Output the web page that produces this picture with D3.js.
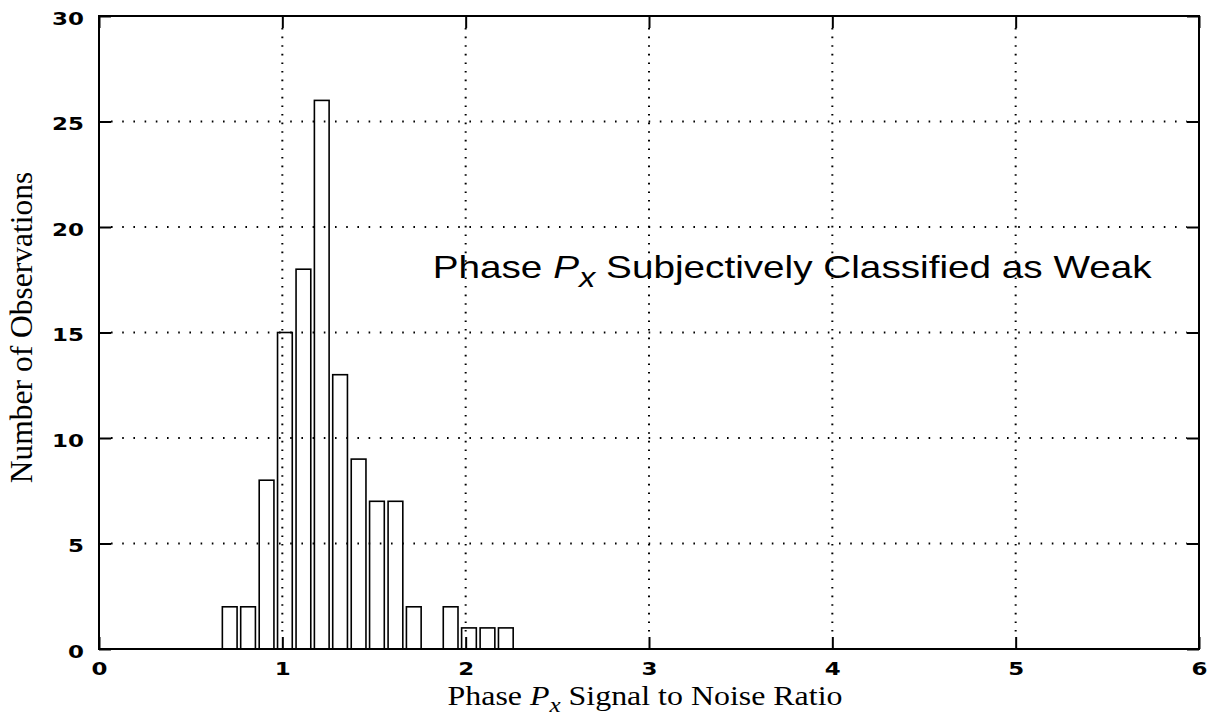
<!DOCTYPE html>
<html>
<head>
<meta charset="utf-8">
<script src="https://cdn.jsdelivr.net/npm/d3@7"></script>
<style>
  html, body { margin: 0; padding: 0; background: #fff; }
  svg { display: block; }
</style>
</head>
<body>
<svg id="chart" width="1217" height="717"></svg>
<script>
// Histogram of phase Px signal-to-noise ratio (bin centres and counts)
const binCenters = [0.713, 0.813, 0.914, 1.014, 1.115, 1.215, 1.315, 1.416, 1.516, 1.617, 1.717, 1.918, 2.018, 2.119, 2.219];
const binCounts  = [2, 2, 8, 15, 18, 26, 13, 9, 7, 7, 2, 2, 1, 1, 1];
const binWidth = 0.1004;
const barFraction = 0.8;

const xTicks = [0, 1, 2, 3, 4, 5, 6];
const yTicks = [0, 5, 10, 15, 20, 25, 30];
const xGrid = [1, 2, 3, 4, 5];
const yGrid = [5, 10, 15, 20, 25];

const svg = d3.select("#chart");
const plotLeft = 99, plotRight = 1199, plotTop = 16, plotBottom = 649;

const x = d3.scaleLinear().domain([0, 6]).range([plotLeft, plotRight]);
const y = d3.scaleLinear().domain([0, 30]).range([plotBottom, plotTop]);

const tickLen = 12;

// bars
svg.append("g")
  .selectAll("rect")
  .data(binCenters.map((c, i) => ({ c, n: binCounts[i] })))
  .join("rect")
  .attr("x", d => x(d.c - binWidth * barFraction / 2))
  .attr("width", d => x(d.c + binWidth * barFraction / 2) - x(d.c - binWidth * barFraction / 2))
  .attr("y", d => y(d.n))
  .attr("height", d => y(0) - y(d.n))
  .attr("fill", "#fff")
  .attr("stroke", "#000")
  .attr("stroke-width", 1.6);

// dotted grid, drawn over the bars
const grid = svg.append("g").attr("stroke", "#000").attr("stroke-width", 2);
grid.selectAll("line.h").data(yGrid).join("line")
  .attr("class", "h")
  .attr("x1", plotLeft + tickLen).attr("x2", plotRight - tickLen)
  .attr("y1", d => y(d)).attr("y2", d => y(d))
  .attr("stroke-dasharray", "1.6,9.6");
grid.selectAll("line.v").data(xGrid).join("line")
  .attr("class", "v")
  .attr("y1", plotTop + tickLen).attr("y2", plotBottom - tickLen)
  .attr("x1", d => x(d)).attr("x2", d => x(d))
  .attr("stroke-dasharray", "1.6,7");

// axes with inward ticks
const tickFont = "'DejaVu Sans', sans-serif";
const sx = 1.35;
const intFmt = d3.format("d");

const yAxis = svg.append("g")
  .attr("transform", `translate(${plotLeft},0)`)
  .call(d3.axisLeft(y).tickValues(yTicks).tickFormat(intFmt).tickSize(-tickLen).tickSizeOuter(0));
yAxis.select(".domain").remove();
yAxis.selectAll("line").attr("stroke", "#000").attr("stroke-width", 2);
yAxis.selectAll("text")
  .attr("x", 0).attr("dy", "0.36em")
  .attr("text-anchor", "end")
  .attr("transform", `translate(-15,2) scale(${sx},1)`)
  .attr("font-family", tickFont).attr("font-weight", "bold")
  .attr("font-size", 17).attr("fill", "#000");

const yAxisR = svg.append("g")
  .attr("transform", `translate(${plotRight},0)`)
  .call(d3.axisRight(y).tickValues(yTicks).tickSize(-tickLen).tickSizeOuter(0).tickFormat(""));
yAxisR.select(".domain").remove();
yAxisR.selectAll("line").attr("stroke", "#000").attr("stroke-width", 2);

const xAxis = svg.append("g")
  .attr("transform", `translate(0,${plotBottom})`)
  .call(d3.axisBottom(x).tickValues(xTicks).tickFormat(intFmt).tickSize(-tickLen).tickSizeOuter(0));
xAxis.select(".domain").remove();
xAxis.selectAll("line").attr("stroke", "#000").attr("stroke-width", 2);
xAxis.selectAll("text")
  .attr("y", 0).attr("dy", "0.36em")
  .attr("text-anchor", "middle")
  .attr("transform", `translate(0,20) scale(${sx},1)`)
  .attr("font-family", tickFont).attr("font-weight", "bold")
  .attr("font-size", 17).attr("fill", "#000");

const xAxisT = svg.append("g")
  .attr("transform", `translate(0,${plotTop})`)
  .call(d3.axisTop(x).tickValues(xTicks).tickSize(-tickLen).tickSizeOuter(0).tickFormat(""));
xAxisT.select(".domain").remove();
xAxisT.selectAll("line").attr("stroke", "#000").attr("stroke-width", 2);

// frame
svg.append("rect")
  .attr("x", plotLeft).attr("y", plotTop)
  .attr("width", plotRight - plotLeft).attr("height", plotBottom - plotTop)
  .attr("fill", "none").attr("stroke", "#000").attr("stroke-width", 2);

// axis titles
const serif = "'Liberation Serif', 'Times New Roman', serif";
const xTitle = svg.append("text")
  .attr("transform", `translate(${(plotLeft + plotRight) / 2 - 4},705) scale(1.14,1)`)
  .attr("text-anchor", "middle")
  .attr("font-family", serif).attr("font-size", 28).attr("fill", "#000");
xTitle.append("tspan").text("Phase ");
xTitle.append("tspan").attr("font-style", "italic").text("P");
xTitle.append("tspan").attr("font-style", "italic").attr("font-size", 22).attr("dy", 7).text("x");
xTitle.append("tspan").attr("dy", -7).text(" Signal to Noise Ratio");

svg.append("text")
  .attr("transform", `translate(32,${(plotTop + plotBottom) / 2 - 5}) rotate(-90)`)
  .attr("text-anchor", "middle")
  .attr("font-family", serif).attr("font-size", 31.5).attr("fill", "#000")
  .text("Number of Observations");

// annotation
const note = svg.append("text")
  .attr("transform", `translate(${x(1.82)},${y(17.6)}) scale(1.21,1)`)
  .attr("font-family", "'Liberation Sans', Arial, sans-serif")
  .attr("font-size", 32).attr("fill", "#000");
note.append("tspan").text("Phase ");
note.append("tspan").attr("font-style", "italic").text("P");
note.append("tspan").attr("font-style", "italic").attr("font-size", 27).attr("dy", 9).text("x");
note.append("tspan").attr("dy", -9).text(" Subjectively Classified as Weak");
</script>
</body>
</html>
